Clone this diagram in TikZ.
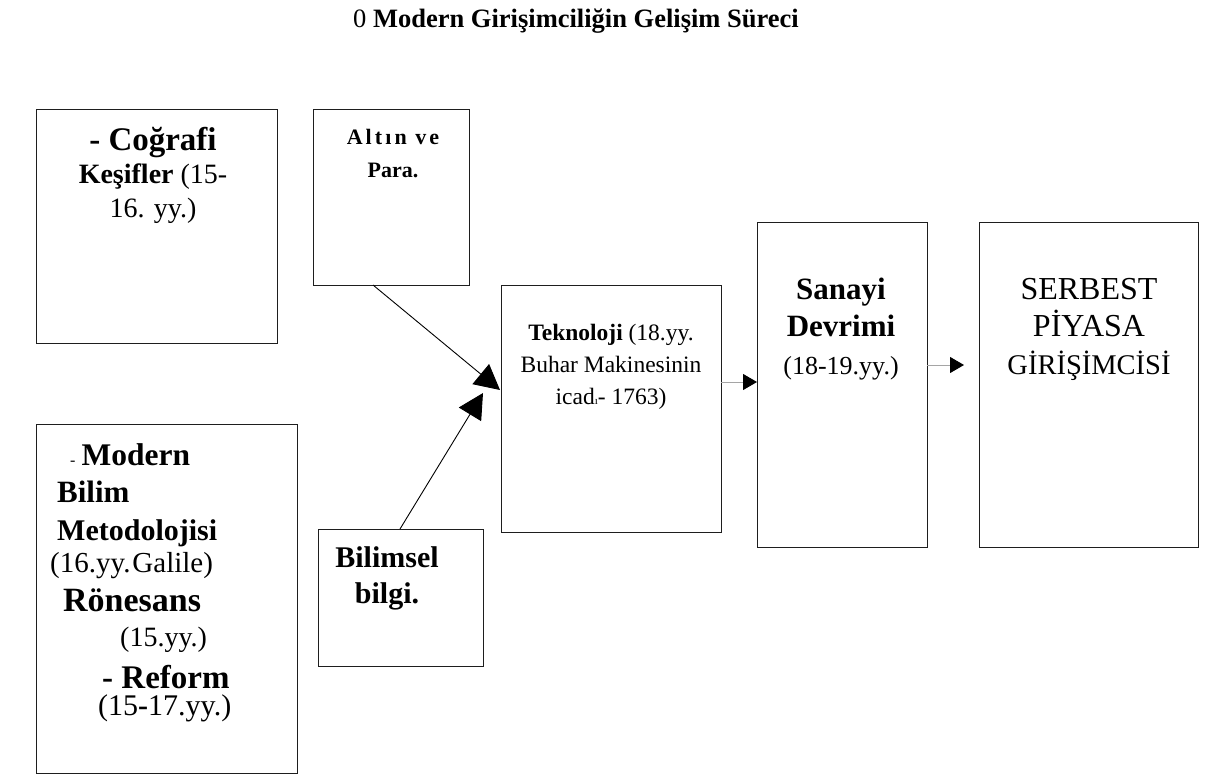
\documentclass[tikz,border=0pt]{standalone}
\usepackage{fontspec}
\setmainfont{Liberation Serif}
\usetikzlibrary{arrows.meta,calc}
\definecolor{kenar}{RGB}{30,30,30}
\definecolor{oklgri}{RGB}{165,165,165}

\tikzset{
  kutu/.style={draw=kenar, line width=1pt, anchor=north west, inner sep=0pt, outer sep=0pt},
  yazi/.style={align=center, inner sep=0pt},
  satir/.style={anchor=base west, inner sep=0pt},
  buyukok/.style={line width=0.9pt, -{Triangle[length=25pt,width=26pt]}},
  kucukok/.style={oklgri, line width=1pt, -{Triangle[length=14pt,width=16pt,black]}}
}

\begin{document}
\begin{tikzpicture}[x=1pt,y=-1pt]
\useasboundingbox (0,0) rectangle (1205,776);

\node[inner sep=0pt] (baslik) at (576,21) {\fontsize{26.5}{30}\selectfont 0 \textbf{Modern Girişimciliğin Gelişim Süreci}};

% kutular
\node[kutu, minimum width=241pt, minimum height=234pt] (cografi) at (36,109) {};
\node[kutu, minimum width=156pt, minimum height=176pt] (altin) at (313,109) {};
\node[kutu, minimum width=220pt, minimum height=247pt] (teknoloji) at (501,285) {};
\node[kutu, minimum width=170pt, minimum height=325pt] (sanayi) at (757,222) {};
\node[kutu, minimum width=219pt, minimum height=325pt] (serbest) at (979,222) {};
\node[kutu, minimum width=261pt, minimum height=349pt] (bilim) at (36,424) {};
\node[kutu, minimum width=165pt, minimum height=137pt] (bilimsel) at (318,529) {};

% yazilar
\node[yazi, font=\fontsize{28}{33.5}\selectfont] (cografiyazi) at (153,175)
  {{\fontsize{33}{33}\selectfont\textbf{- Coğrafi}}\\ \textbf{Keşifler} (15-\\ 16. yy.)};
\node[yazi, font=\fontsize{22}{33}\selectfont\bfseries] (altinyazi) at (393,154)
  {\addfontfeature{LetterSpace=14}Altın ve\\ Para.};
\node[yazi, font=\fontsize{23.5}{32}\selectfont] (teknolojiyazi) at (611,367)
  {\textbf{Teknoloji} (18.yy.\\ Buhar Makinesinin\\ icad{\fontsize{11}{11}\selectfont ı}- 1763)};
\node[yazi, font=\fontsize{31}{37.5}\selectfont] (sanayiyazi) at (841,329)
  {\textbf{Sanayi}\\ \textbf{Devrimi}\\ {\fontsize{26}{26}\selectfont (18-19.yy.)}};
\node[yazi, font=\fontsize{32}{37.5}\selectfont] (serbestyazi) at (1089,329)
  {SERBEST\\ PİYASA\\ {\fontsize{28.5}{28.5}\selectfont GİRİŞİMCİSİ}};
\node[yazi, font=\fontsize{30}{36}\selectfont\bfseries] (bilimselyazi) at (387,578)
  {Bilimsel\\ bilgi.};

\node[satir] (b1) at (70,465) {{\fontsize{16}{16}\selectfont -}\hspace{6pt}\fontsize{31.5}{31}\selectfont\textbf{Modern}};
\node[satir] (b2) at (57,502) {\fontsize{31}{31}\selectfont\textbf{Bilim}};
\node[satir] (b3) at (57,540) {\fontsize{30}{30}\selectfont\textbf{Metodolojisi}};
\node[satir] (b4) at (50,572) {\fontsize{29}{29}\selectfont(16.yy.\hspace{2pt}Galile)};
\node[satir] (b5) at (63,611) {\fontsize{34}{34}\selectfont\textbf{Rönesans}};
\node[satir] (b6) at (120,646) {\fontsize{28}{28}\selectfont(15.yy.)};
\node[satir] (b7) at (102,688) {\fontsize{33}{33}\selectfont\textbf{- Reform}};
\node[satir] (b8) at (98,715) {\fontsize{30}{30}\selectfont(15\textbf{-}17.yy.)};

% oklar
\draw[buyukok] ($(altin.south west)+(60,0)$) -- ($(teknoloji.north west)+(-1,105)$);
\draw[buyukok] ($(bilimsel.north west)+(82,0)$) -- ($(teknoloji.north west)+(-18,108)$);
\draw[kucukok] ($(teknoloji.north east)+(0,97)$) -- ($(sanayi.north west)+(0,160)$);
\draw[kucukok] ($(sanayi.north east)+(0,143)$) -- ($(serbest.north west)+(-15,143)$);

\end{tikzpicture}
\end{document}
